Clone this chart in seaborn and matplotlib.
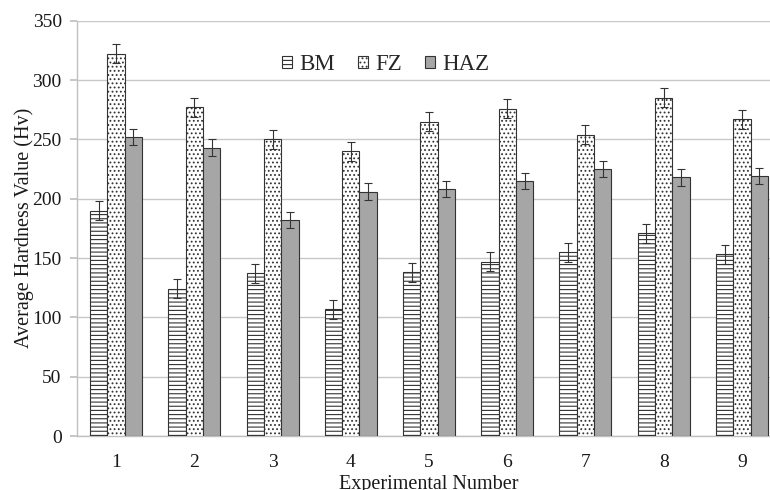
import matplotlib
matplotlib.use("Agg")
import matplotlib.pyplot as plt
import seaborn as sns
import pandas as pd
import numpy as np
from matplotlib.patches import Patch

experiments = ["1", "2", "3", "4", "5", "6", "7", "8", "9"]
bm = [190, 124, 137, 107, 138, 147, 155, 171, 153]
fz = [322, 277, 250, 240, 265, 276, 254, 285, 267]
haz = [252, 243, 182, 206, 208, 215, 225, 218, 219]
bm_err = [8, 8, 8, 8, 8, 8, 8, 8, 8]
fz_err = [8, 8, 8, 8, 8, 8, 8, 8, 8]
haz_err = [7, 7, 7, 7, 7, 7, 7, 7, 7]
zones = ["BM", "FZ", "HAZ"]

sns.set_theme(style="white")
plt.rcParams['font.family'] = ['Liberation Serif', 'DejaVu Serif']
plt.rcParams['hatch.linewidth'] = 0.8

rows = []
for z, vals in zip(zones, [bm, fz, haz]):
    for e, v in zip(experiments, vals):
        rows.append({"Experiment": e, "Zone": z, "Hardness": v})
df = pd.DataFrame(rows)

W, H = 770, 490
fig = plt.figure(figsize=(W/100, H/100), dpi=100)
ax = fig.add_axes([77/W, 1-436/H, 704/W, 415.3/H])

palette = {"BM": "white", "FZ": "white", "HAZ": "#a6a6a6"}
sns.barplot(data=df, x="Experiment", y="Hardness", hue="Zone", order=experiments,
            hue_order=zones, palette=palette, errorbar=None, width=0.665,
            edgecolor="#333333", linewidth=0.8, ax=ax, legend=False, zorder=3)

hatches = {"BM": "----", "FZ": "....", "HAZ": ""}
errs = {"BM": bm_err, "FZ": fz_err, "HAZ": haz_err}
vals = {"BM": bm, "FZ": fz, "HAZ": haz}
for cont, z in zip(ax.containers, zones):
    xs = []
    for p in cont.patches:
        p.set_hatch(hatches[z])
        xs.append(p.get_x() + p.get_width() / 2)
    ax.errorbar(xs, vals[z], yerr=errs[z], fmt="none", ecolor="#333333",
                elinewidth=0.8, capsize=3, capthick=0.8, zorder=4)

ax.set_ylim(0, 350)
ax.set_xlim(-0.5, 8.5)
ax.set_yticks(np.arange(0, 351, 50))
ax.yaxis.grid(True, color="#c8c8c8", linewidth=1, zorder=0)
ax.set_axisbelow(True)
for s in ["top", "right"]:
    ax.spines[s].set_visible(False)
for s in ["left", "bottom"]:
    ax.spines[s].set_color("#c0c0c0")
    ax.spines[s].set_linewidth(1)
ax.tick_params(axis="y", left=True, length=5, color="#c0c0c0", labelsize=14, pad=6, labelcolor="#1a1a1a")
ax.tick_params(axis="x", bottom=False, labelsize=14, pad=7, labelcolor="#1a1a1a")
ax.set_xlabel("Experimental Number", fontsize=14.5, labelpad=3, color="#1a1a1a")
ax.set_ylabel("Average Hardness Value (Hv)", fontsize=14.5, labelpad=-1, color="#1a1a1a")

handles = [Patch(facecolor=palette[z], edgecolor="#333333", hatch=hatches[z], linewidth=0.8) for z in zones]
ax.legend(handles, zones, loc="center left", bbox_to_anchor=(282/W, 1-65/H),
          bbox_transform=fig.transFigure, ncol=3, borderpad=0, borderaxespad=0,
          frameon=False, fontsize=16.5, handlelength=0.45, handleheight=0.45,
          handletextpad=0.3, columnspacing=1.0)

fig.savefig("out.png", dpi=100)
